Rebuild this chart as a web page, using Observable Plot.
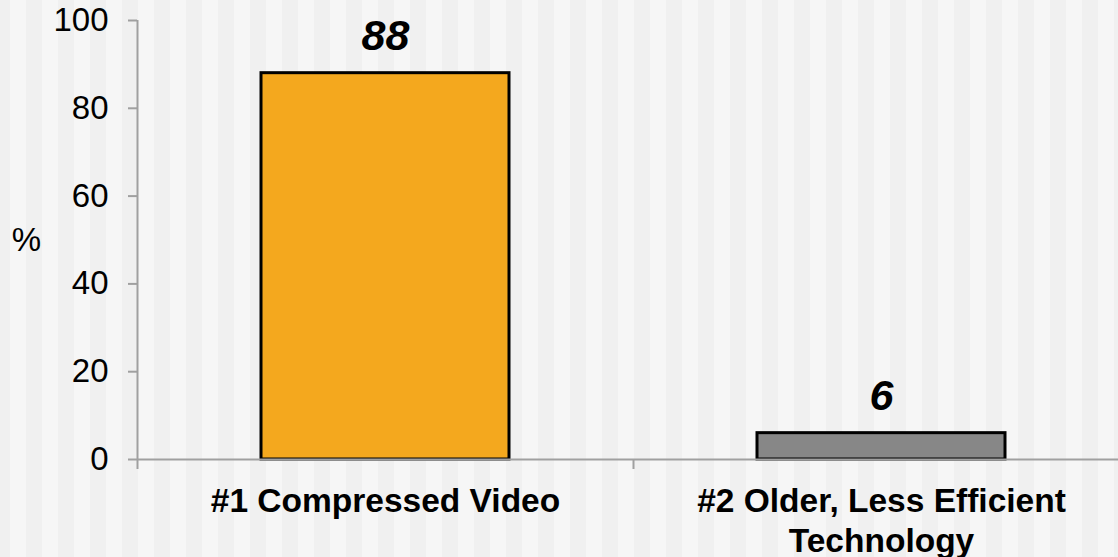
<!DOCTYPE html>
<html>
<head>
<meta charset="utf-8">
<script src="https://cdn.jsdelivr.net/npm/d3@7"></script>
<script src="https://cdn.jsdelivr.net/npm/@observablehq/plot@0.6"></script>
<style>
  html, body { margin: 0; padding: 0; }
  body {
    width: 1118px; height: 557px; overflow: hidden;
    background: repeating-linear-gradient(90deg, #f6f6f6 0 16px, #f0f0f0 16px 32px);
    background-position: 10px 0;
    font-family: "Liberation Sans", Arial, sans-serif;
  }
  #chart svg { display: block; }
</style>
</head>
<body>
<div id="chart"></div>
<script>
const categories = ["#1 Compressed Video", "#2 Older, Less Efficient Technology"];
const values = [88, 6];
const barColors = ["#F4A81E", "#878787"];
const yTicks = [0, 20, 40, 60, 80, 100];
const yLabel = "%";

const rows = categories.map((c, i) => ({category: c, value: values[i], i, color: barColors[i]}));
const slots = d3.range(categories.length + 1);

const chart = Plot.plot({
  width: 1118,
  height: 557,
  marginTop: 20,
  marginBottom: 98,
  marginLeft: 137,
  marginRight: 0,
  style: {background: "transparent", fontFamily: "'Liberation Sans', Arial, sans-serif", color: "black", overflow: "visible"},
  x: {type: "linear", domain: [0, categories.length], range: [137, 1129]},
  y: {domain: [0, 100]},
  marks: [
    Plot.rectY(rows, {
      x1: d => d.i + 0.25, x2: d => d.i + 0.75, y1: 0, y2: "value",
      fill: d => d.color, stroke: "black", strokeWidth: 3
    }),
    Plot.ruleY([0], {stroke: "#a0a0a0", strokeWidth: 2}),
    Plot.ruleX([0], {y1: 0, y2: 100, stroke: "#a0a0a0", strokeWidth: 2}),
    Plot.axisY({ticks: yTicks, tickSize: 9, tickPadding: 20, fontSize: 33, stroke: "#a0a0a0", strokeWidth: 2, fill: "black", label: null}),
    Plot.axisX({ticks: slots, tickFormat: () => "", tickSize: 10, stroke: "#a0a0a0", strokeWidth: 2, label: null}),
    Plot.text(rows, {
      x: d => d.i + 0.5, y: "value", text: d => String(d.value),
      fontSize: 43, fontWeight: "bold", fontStyle: "italic", dy: -37, fill: "black"
    }),
    Plot.text(rows, {
      x: d => d.i + 0.5, y: () => 0, text: "category",
      fontSize: 33.5, fontWeight: "bold", lineAnchor: "top", dy: 24,
      lineWidth: 11.6, lineHeight: 1.2, fill: "black"
    }),
    Plot.text([yLabel], {frameAnchor: "left", textAnchor: "middle", dx: -111, text: d => d, fontSize: 33, fill: "black"})
  ]
});
document.getElementById("chart").append(chart);
</script>
</body>
</html>
